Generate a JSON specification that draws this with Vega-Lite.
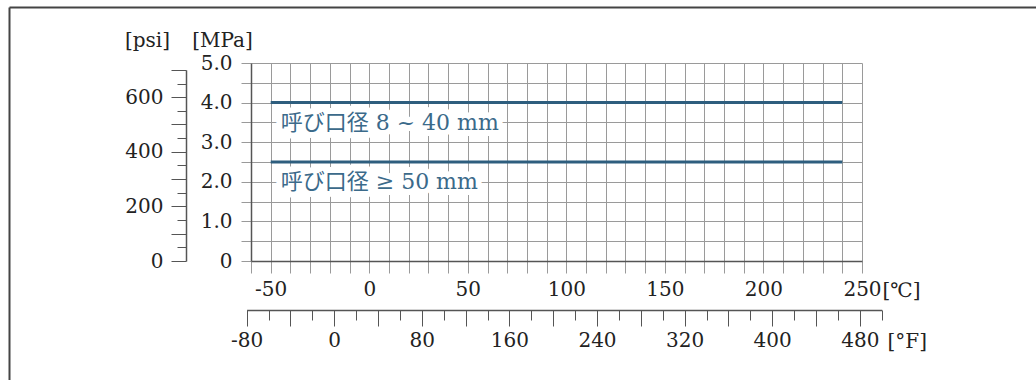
{
  "$schema": "https://vega.github.io/schema/vega-lite/v6.json",
  "autosize": "none",
  "padding": {"left": 251, "top": 63, "right": 174, "bottom": 119},
  "width": 611,
  "height": 198,
  "background": "white",
  "config": {
    "view": {"stroke": null},
    "font": "DejaVu Serif",
    "axis": {
      "labelFont": "DejaVu Serif",
      "labelFontSize": 20,
      "labelColor": "#222222",
      "titleFont": "DejaVu Serif, Noto Sans CJK JP",
      "titleFontSize": 20,
      "titleFontWeight": "normal",
      "titleColor": "#222222",
      "labelOverlap": false,
      "labelFlush": false,
      "labelBound": false,
      "domainColor": "#555555",
      "domainWidth": 1.5,
      "gridColor": "#9a9a9a",
      "gridWidth": 1,
      "gridOpacity": 1
    }
  },
  "resolve": {
    "scale": {"x": "independent", "y": "independent"},
    "axis": {"x": "independent", "y": "independent"}
  },
  "layer": [
    {
      "data": {
        "values": [
          {"name": "呼び口径 8 ~ 40 mm", "mpa": 4.0, "t0": -50, "t1": 240},
          {"name": "呼び口径 ≥ 50 mm", "mpa": 2.5, "t0": -50, "t1": 240}
        ]
      },
      "encoding": {
        "x": {
          "field": "t0",
          "type": "quantitative",
          "scale": {"domain": [-60, 250], "nice": false, "zero": false},
          "axis": {
            "orient": "bottom",
            "values": [-60, -50, -40, -30, -20, -10, 0, 10, 20, 30, 40, 50, 60, 70, 80, 90, 100, 110, 120, 130, 140, 150, 160, 170, 180, 190, 200, 210, 220, 230, 240, 250],
            "labelExpr": "datum.value % 50 === 0 ? '' + datum.value : ''",
            "tickSize": 12,
            "tickColor": "#9a9a9a",
            "labelPadding": 6,
            "grid": true,
            "title": "[℃]",
            "titleX": 631,
            "titleY": 29,
            "titleAlign": "left",
            "titleBaseline": "middle",
            "titleAnchor": null
          }
        },
        "y": {
          "field": "mpa",
          "type": "quantitative",
          "scale": {"domain": [0, 5], "nice": false, "zero": false},
          "axis": {
            "orient": "left",
            "values": [0, 0.5, 1, 1.5, 2, 2.5, 3, 3.5, 4, 4.5, 5],
            "labelExpr": "datum.value === 0 ? '0' : (datum.value % 1 === 0 ? format(datum.value, '.1f') : '')",
            "tickSize": 10,
            "tickColor": "#9a9a9a",
            "labelPadding": 9,
            "grid": true,
            "title": "[MPa]",
            "titleAngle": 0,
            "titleX": -29,
            "titleY": -23,
            "titleAlign": "center",
            "titleBaseline": "middle",
            "titleAnchor": null
          }
        }
      },
      "layer": [
        {
          "mark": {"type": "rule", "strokeWidth": 3, "color": "#2e5e7e"},
          "encoding": {"x2": {"field": "t1"}}
        },
        {
          "mark": {"type": "text", "align": "left", "baseline": "middle", "dx": 10, "dy": 20, "fontSize": 22, "font": "DejaVu Serif, Noto Sans CJK JP", "stroke": "white", "strokeWidth": 12, "strokeJoin": "round", "fill": "white"},
          "encoding": {"text": {"field": "name"}}
        },
        {
          "mark": {"type": "text", "align": "left", "baseline": "middle", "dx": 10, "dy": 20, "fontSize": 22, "font": "DejaVu Serif, Noto Sans CJK JP", "fill": "#3b6a8a"},
          "encoding": {"text": {"field": "name"}}
        }
      ]
    },
    {
      "mark": {"type": "rule", "opacity": 0},
      "encoding": {
        "y": {
          "datum": 0,
          "type": "quantitative",
          "scale": {"domain": [0, 700], "range": [198, 6.88], "nice": false, "zero": false},
          "axis": {
            "orient": "left",
            "offset": 65,
            "grid": false,
            "values": [0, 50, 100, 150, 200, 250, 300, 350, 400, 450, 500, 550, 600, 650, 700],
            "labelExpr": "datum.value % 200 === 0 ? '' + datum.value : ''",
            "tickSize": {"condition": {"test": "datum.value % 100 === 0", "value": 15}, "value": 9},
            "tickColor": "#555555",
            "labelPadding": 8,
            "title": "[psi]",
            "titleAngle": 0,
            "titleX": -39,
            "titleY": -23,
            "titleAlign": "center",
            "titleBaseline": "middle",
            "titleAnchor": null
          }
        }
      }
    },
    {
      "mark": {"type": "rule", "opacity": 0},
      "encoding": {
        "x": {
          "datum": 0,
          "type": "quantitative",
          "scale": {"domain": [-80, 500], "range": [-4.38, 630.71], "nice": false, "zero": false},
          "axis": {
            "orient": "bottom",
            "offset": 49,
            "grid": false,
            "values": [-80, -60, -40, -20, 0, 20, 40, 60, 80, 100, 120, 140, 160, 180, 200, 220, 240, 260, 280, 300, 320, 340, 360, 380, 400, 420, 440, 460, 480, 500],
            "labelExpr": "datum.value % 80 === 0 ? '' + datum.value : ''",
            "tickSize": {"condition": {"test": "datum.value % 40 === 0", "value": 16}, "value": 10},
            "tickColor": "#555555",
            "labelPadding": 4,
            "title": "[°F]",
            "titleX": 636,
            "titleY": 31,
            "titleAlign": "left",
            "titleBaseline": "middle",
            "titleAnchor": null
          }
        }
      }
    },
    {
      "mark": {"type": "rule", "opacity": 0},
      "encoding": {
        "x": {
          "datum": 0,
          "type": "quantitative",
          "scale": {"domain": [0, 1], "range": [-242, 785], "nice": false, "zero": false},
          "axis": {"orient": "top", "offset": 56, "grid": false, "ticks": false, "labels": false, "title": null, "domainColor": "#444444", "domainWidth": 2}
        }
      }
    },
    {
      "mark": {"type": "rule", "opacity": 0},
      "encoding": {
        "y": {
          "datum": 0,
          "type": "quantitative",
          "scale": {"domain": [0, 1], "range": [317, -56], "nice": false, "zero": false},
          "axis": {"orient": "left", "offset": 242, "grid": false, "ticks": false, "labels": false, "title": null, "domainColor": "#444444", "domainWidth": 2}
        }
      }
    }
  ]
}
